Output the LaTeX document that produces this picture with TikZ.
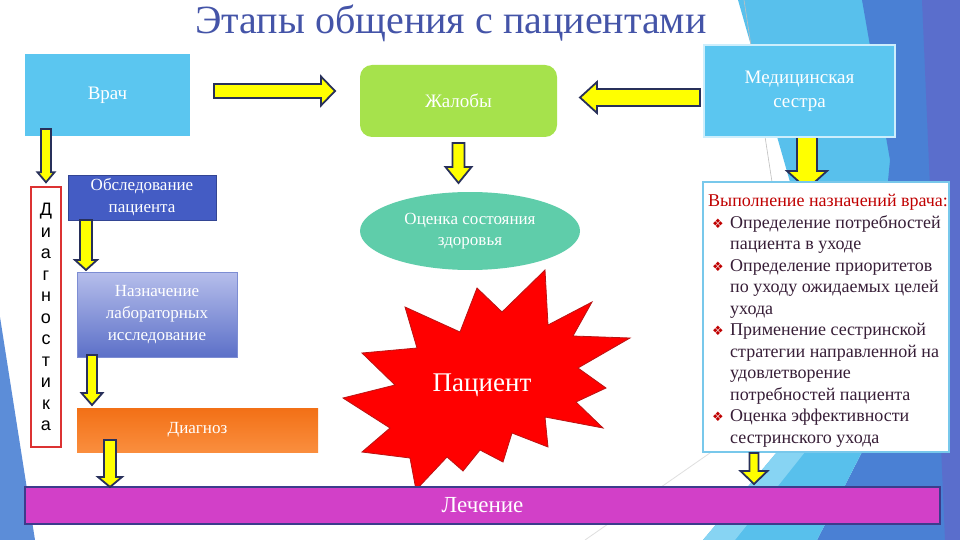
\documentclass[tikz,border=0pt]{standalone}
\usepackage{fontspec}
\setmainfont{Liberation Serif}
\newfontfamily\arialfont{Liberation Sans}
\newfontfamily\dejavu{DejaVu Sans}
\usetikzlibrary{calc,shapes.geometric}

\definecolor{titleblue}{RGB}{68,84,168}
\definecolor{skyblue}{RGB}{91,198,240}
\definecolor{framepale}{RGB}{205,238,252}
\definecolor{leafgreen}{RGB}{166,226,76}
\definecolor{royal}{RGB}{68,92,196}
\definecolor{lavtop}{RGB}{182,190,235}
\definecolor{lavbot}{RGB}{92,112,200}
\definecolor{orangetop}{RGB}{242,112,22}
\definecolor{orangebot}{RGB}{250,142,62}
\definecolor{mint}{RGB}{95,205,170}
\definecolor{lechmag}{RGB}{210,64,200}
\definecolor{barblue}{RGB}{60,60,140}
\definecolor{arrowfill}{RGB}{255,255,0}
\definecolor{arrowline}{RGB}{40,48,90}
\definecolor{starred}{RGB}{255,0,0}
\definecolor{stardark}{RGB}{185,20,20}
\definecolor{diagred}{RGB}{220,50,50}
\definecolor{framecyan}{RGB}{120,200,235}
\definecolor{headred}{RGB}{192,0,0}
\definecolor{listtext}{RGB}{55,30,55}
\definecolor{facetlight}{RGB}{88,192,236}
\definecolor{facetpale}{RGB}{135,212,243}
\definecolor{facetmid}{RGB}{74,128,212}
\definecolor{facetdeep}{RGB}{90,110,204}

\pgfdeclarelayer{back}
\pgfsetlayers{back,main}

\newcommand\bulmark{\hspace*{4pt}\makebox[18pt][l]{\color{headred}\dejavu\fontsize{13}{13}\selectfont ❖}}
\newcommand\hangind{\hspace*{22pt}}

\tikzset{
  bagapa/.store in=\bagapa, bagapb/.store in=\bagapb,
  bashaft/.store in=\bashaft, bahead/.store in=\bahead, balen/.store in=\balen,
  bagapa=0, bagapb=0, bashaft=6, bahead=12, balen=12,
  blockarrow/.style={fill=arrowfill, draw=arrowline, line width=1.8pt, line join=miter,
    to path={let \p1=(\tikztostart), \p2=(\tikztotarget),
      \n1={atan2(\y2-\y1,\x2-\x1)}, \n2={veclen(\x2-\x1,\y2-\y1)},
      \n3={\n2-\bagapb-\balen}, \n4={\n2-\bagapb} in
      ($(\p1)+(\n1:\bagapa pt)+(\n1+90:\bashaft pt)$)
      -- ($(\p1)+(\n1:\n3)+(\n1+90:\bashaft pt)$)
      -- ($(\p1)+(\n1:\n3)+(\n1+90:\bahead pt)$)
      -- ($(\p1)+(\n1:\n4)$)
      -- ($(\p1)+(\n1:\n3)+(\n1-90:\bahead pt)$)
      -- ($(\p1)+(\n1:\n3)+(\n1-90:\bashaft pt)$)
      -- ($(\p1)+(\n1:\bagapa pt)+(\n1-90:\bashaft pt)$) -- cycle}}
}

\begin{document}
\begin{tikzpicture}[x=1pt,y=-1pt,
    box/.style={rectangle, inner sep=0pt, outer sep=0pt, text=white, align=center,
      font=\fontsize{19}{24}\selectfont},
    smallbox/.style={box, font=\fontsize{17}{22}\selectfont},
    diagbox/.style={draw=diagred, line width=1.5pt, fill=white, inner sep=0pt,
      minimum width=30pt, minimum height=260pt, align=center,
      font=\arialfont\fontsize{18}{21.5}\selectfont}]
  \useasboundingbox (0,0) rectangle (960,540);

  % background facets
  \begin{pgfonlayer}{back}
    \fill[white] (0,0) rectangle (960,540);
    \fill[facetlight] (738,0) -- (866,0) -- (900,182) -- (790,182) -- cycle;
    \fill[facetmid] (862,0) -- (960,0) -- (960,540) -- (817,540) -- (862,452) -- (890,160) -- cycle;
    \fill[facetdeep] (922,0) -- (960,0) -- (960,540) -- (945,540) -- cycle;
    \fill[facetlight] (703,540) -- (777,452) -- (862,452) -- (817,540) -- cycle;
    \fill[facetpale] (703,540) -- (777,452) -- (805,452) -- (735,540) -- cycle;
    \fill[facetmid!90!white] (0,317) -- (35,540) -- (0,540) -- cycle;
    \draw[gray!50, line width=0.6pt] (744,0) -- (772,182);
    \draw[gray!25, line width=0.8pt] (585,540) -- (720,446);
  \end{pgfonlayer}

  \node[font=\fontsize{40}{44}\selectfont, text=titleblue] (title) at (451,23) {Этапы общения с пациентами};

  \node[box, fill=skyblue, minimum width=165pt, minimum height=82pt] (vrach) at (107.5,95) {Врач};
  \node[box, fill=leafgreen, rounded corners=12pt, minimum width=197pt, minimum height=72pt] (zhaloby) at (458.5,101) {Жалобы};
  \node[box, fill=skyblue, draw=framepale, line width=2pt, minimum width=191pt, minimum height=92pt] (sestra) at (799.5,91) {Медицинская\\сестра};

  \node[diagbox] (diag) at (46,317) {Д\\и\\а\\г\\н\\о\\с\\т\\и\\к\\а};
  \node[smallbox, fill=royal, draw=royal!75!black, line width=0.8pt, minimum width=148pt, minimum height=45pt] (obsl) at (142,197.5) {Обследование\\пациента};
  \node[smallbox, top color=lavtop, bottom color=lavbot, draw=lavbot!80, line width=0.6pt, minimum width=160pt, minimum height=85pt] (nazn) at (157,314.5) {Назначение\\лабораторных\\исследование};
  \node[smallbox, top color=orangetop, bottom color=orangebot, minimum width=241pt, minimum height=44pt] (dgz) at (197.5,430) {Диагноз};

  \node[smallbox, ellipse, fill=mint, minimum width=220pt, minimum height=78pt, font=\fontsize{17}{21}\selectfont] (ocenka) at (470,231) {Оценка состояния\\здоровья};

  % patient burst
  \draw[fill=starred, draw=stardark, line width=0.8pt, line join=miter]
    (545,270) -- (548,325) -- (592,302) -- (573,336) -- (630,338) -- (578,368)
    -- (606,388) -- (576,402) -- (603,428) -- (545,417) -- (548,447) -- (512,433)
    -- (503,462) -- (480,450) -- (463,471) -- (447,457) -- (416,490) -- (410,458)
    -- (362,452) -- (390,428) -- (343,398) -- (395,385) -- (362,353) -- (417,348)
    -- (405,307) -- (460,332) -- (477,288) -- (502,312) -- cycle;
  \node[text=white, font=\fontsize{27}{30}\selectfont] (patient) at (482,385) {Пациент};

  \node[box, fill=lechmag, draw=barblue, line width=2pt, minimum width=915pt, minimum height=37pt, font=\fontsize{23}{26}\selectfont] (lech) at (482.5,505.5) {Лечение};

  \node[draw=framecyan, line width=2pt, fill=white, minimum width=246pt, minimum height=270pt] (tasks) at (826,317) {};
  \node[anchor=north west, inner sep=0pt, align=left, text=listtext, font=\fontsize{18}{21.5}\selectfont] (tasklist) at (708,194) {%
    {\color{headred}Выполнение назначений врача:}\\
    \bulmark Определение потребностей\\
    \hangind пациента в уходе\\
    \bulmark Определение приоритетов\\
    \hangind по уходу ожидаемых целей\\
    \hangind ухода\\
    \bulmark Применение сестринской\\
    \hangind стратегии направленной на\\
    \hangind удовлетворение\\
    \hangind потребностей пациента\\
    \bulmark Оценка эффективности\\
    \hangind сестринского ухода};

  % yellow block arrows
  \coordinate (v1) at ([yshift=4pt]vrach.east);
  \coordinate (s1) at ([yshift=-6.5pt]sestra.west);
  \coordinate (d1) at (diag.north |- vrach.south);
  \coordinate (o1) at ([xshift=18pt]obsl.south west);
  \coordinate (n1) at ([xshift=15pt]nazn.south west);
  \coordinate (g1) at ([xshift=33pt]dgz.south west);
  \coordinate (m1) at ([xshift=7.5pt]sestra.south);
  \coordinate (t1) at ([xshift=52pt]tasks.south west);
  \draw[blockarrow, bagapa=24, bagapb=25, bashaft=7, bahead=14.5, balen=14] (v1) to (v1 -| zhaloby.west);
  \draw[blockarrow, bagapa=4, bagapb=23, bashaft=8.5, bahead=15.5, balen=17] (s1) to (s1 -| zhaloby.east);
  \draw[blockarrow, bagapa=-7, bagapb=4, bashaft=5, bahead=8.5, balen=10] (d1) to (diag.north);
  \draw[blockarrow, bagapa=0, bagapb=2, bashaft=6, bahead=11, balen=10] (o1) to (o1 |- nazn.north);
  \draw[blockarrow, bagapa=-2, bagapb=3, bashaft=5, bahead=10.5, balen=12] (n1) to (n1 |- dgz.north);
  \draw[blockarrow, bagapa=-12, bagapb=0, bashaft=6, bahead=12, balen=10] (g1) to (g1 |- lech.north);
  \draw[blockarrow, bagapa=6, bagapb=9, bashaft=6, bahead=13, balen=16] (zhaloby.south) to (zhaloby.south |- ocenka.north);
  \draw[blockarrow, bagapa=0, bagapb=3, bashaft=4.5, bahead=13.5, balen=13] (t1) to (t1 |- lech.north);
  \begin{pgfonlayer}{back}
    \draw[blockarrow, bagapa=0, bagapb=-8, bashaft=10, bahead=20, balen=18] (m1) to (m1 |- tasks.north);
  \end{pgfonlayer}
\end{tikzpicture}
\end{document}
